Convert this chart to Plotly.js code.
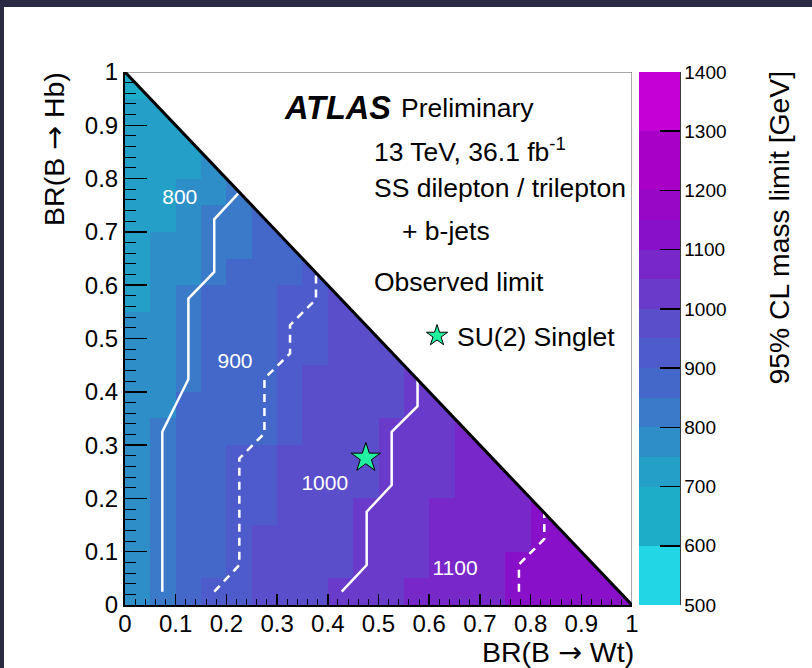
<!DOCTYPE html>
<html><head><meta charset="utf-8">
<script src="https://cdn.plot.ly/plotly-3.0.1.min.js"></script>
<style>
html,body{margin:0;padding:0;background:#2b2a45;width:812px;height:668px;overflow:hidden}
#chart{position:absolute;left:4px;top:7px;width:808px;height:661px;background:#fff}
</style></head><body><div id="chart"></div>
<script>
// Bin edges of the BR scan (x: BR(B->Wt), y: BR(B->Hb))
const binEdgesWt = [0,0.05,0.1,0.15,0.2,0.25,0.3,0.35,0.4,0.45,0.5,0.55,0.6,0.65,0.7,0.75,0.8,0.85,0.9,0.95,1];
const binEdgesHb = [0,0.05,0.1,0.15,0.2,0.25,0.3,0.35,0.4,0.45,0.5,0.55,0.6,0.65,0.7,0.75,0.8,0.85,0.9,0.95,1];
const N = null;
// Observed 95% CL mass limit [GeV] per cell, rows = BR(Hb) bins (bottom to top), cols = BR(Wt) bins
const massLimit = [
 [775,825,875,925,925,975,975,975,1025,1025,1025,1075,1075,1075,1075,1125,1125,1125,1125,1125],
 [775,825,875,875,925,975,975,975,975,1025,1025,1025,1075,1075,1075,1125,1125,1125,1125,N],
 [775,825,875,875,925,975,975,975,975,1025,1025,1025,1075,1075,1075,1075,1125,1125,N,N],
 [775,825,875,875,925,925,975,975,975,1025,1025,1025,1075,1075,1075,1075,1125,N,N,N],
 [775,825,875,875,925,925,975,975,975,975,1025,1025,1025,1075,1075,1075,N,N,N,N],
 [775,825,875,875,925,925,975,975,975,975,1025,1025,1025,1075,1075,N,N,N,N,N],
 [775,825,875,875,875,875,925,975,975,975,1025,1025,1025,1075,N,N,N,N,N,N],
 [775,775,875,875,875,875,925,975,975,975,975,1025,1025,N,N,N,N,N,N,N],
 [775,775,825,875,875,875,925,975,975,975,975,1025,N,N,N,N,N,N,N,N],
 [775,775,825,875,875,875,925,925,975,975,975,N,N,N,N,N,N,N,N,N],
 [775,775,825,875,875,875,925,925,975,975,N,N,N,N,N,N,N,N,N,N],
 [725,775,825,875,875,875,925,925,975,N,N,N,N,N,N,N,N,N,N,N],
 [725,775,775,825,875,875,875,925,N,N,N,N,N,N,N,N,N,N,N,N],
 [725,775,775,825,825,875,875,N,N,N,N,N,N,N,N,N,N,N,N,N],
 [725,725,775,825,825,875,N,N,N,N,N,N,N,N,N,N,N,N,N,N],
 [725,725,775,775,825,N,N,N,N,N,N,N,N,N,N,N,N,N,N,N],
 [725,725,725,775,N,N,N,N,N,N,N,N,N,N,N,N,N,N,N,N],
 [725,725,725,N,N,N,N,N,N,N,N,N,N,N,N,N,N,N,N,N],
 [725,725,N,N,N,N,N,N,N,N,N,N,N,N,N,N,N,N,N,N],
 [650,N,N,N,N,N,N,N,N,N,N,N,N,N,N,N,N,N,N,N]
];
// Palette levels
const bandEdges = [500,600,700,750,800,850,900,950,1000,1050,1100,1150,1200,1300,1400];
const bandColors = ['#22d6e6','#1eadc8','#24a0c8','#2e8ec8','#3a7ac8','#4468ca','#4e5ccb','#5a4ecb','#6a3aca','#7828c8','#8810c8','#9806c6','#a800c6','#c400d6'];
const colorbarTicks = [500,600,700,800,900,1000,1100,1200,1300,1400];
const xTickVals = [0,0.1,0.2,0.3,0.4,0.5,0.6,0.7,0.8,0.9,1];
const yTickVals = [0,0.1,0.2,0.3,0.4,0.5,0.6,0.7,0.8,0.9,1];
// Contours (BR(Wt), BR(Hb))
const contour800Wt = [0.0736,0.0736,0.125,0.125,0.176,0.176,0.2235];
const contour800Hb = [0.025,0.325,0.4235,0.575,0.625,0.7236,0.7724];
const contour900Wt = [0.176,0.2255,0.2255,0.275,0.275,0.3255,0.3255,0.3767,0.3767];
const contour900Hb = [0.025,0.075,0.275,0.322,0.425,0.472,0.525,0.5735,0.622];
const contour1000Wt = [0.4274,0.4767,0.4767,0.526,0.526,0.577,0.577];
const contour1000Hb = [0.025,0.075,0.175,0.225,0.325,0.373,0.422];
const contour1100Wt = [0.777,0.777,0.827,0.827];
const contour1100Hb = [0.025,0.076,0.124,0.174];
const contourLabelText = ['800','900','1000','1100'];
const contourLabelWt = [0.108,0.217,0.394,0.651];
const contourLabelHb = [0.763,0.454,0.225,0.066];
// SU(2) singlet benchmark
const singletWt = [0.475];
const singletHb = [0.276];

const FONT = 'Liberation Sans, Arial, Helvetica, sans-serif';
const ARROW = '<span style="font-family:DejaVu Sans">\u2192</span>';
const zmin = bandEdges[0], zmax = bandEdges[bandEdges.length-1];
const colorscale = [];
bandColors.forEach(function(c,k){
  colorscale.push([(bandEdges[k]-zmin)/(zmax-zmin), c]);
  colorscale.push([(bandEdges[k+1]-zmin)/(zmax-zmin), c]);
});

const traces = [
  {type:'heatmap', x:binEdgesWt, y:binEdgesHb, z:massLimit, zmin:zmin, zmax:zmax,
   colorscale:colorscale, zsmooth:false, hoverinfo:'skip', showlegend:false,
   colorbar:{x:1.0138, xanchor:'left', xpad:0, ypad:0, y:0.5, yanchor:'middle',
     len:533, lenmode:'pixels', thickness:41, thicknessmode:'pixels', outlinewidth:0,
     tickmode:'array', tickvals:colorbarTicks, ticks:'inside', ticklen:20, tickwidth:1.5, tickcolor:'#000',
     tickfont:{size:19, color:'#000', family:FONT}}},
  {type:'scatter', mode:'lines', x:contour800Wt, y:contour800Hb, line:{color:'#fff', width:2.5}, showlegend:false, hoverinfo:'skip'},
  {type:'scatter', mode:'lines', x:contour900Wt, y:contour900Hb, line:{color:'#fff', width:2.5, dash:'8px,6px'}, showlegend:false, hoverinfo:'skip'},
  {type:'scatter', mode:'lines', x:contour1000Wt, y:contour1000Hb, line:{color:'#fff', width:2.5}, showlegend:false, hoverinfo:'skip'},
  {type:'scatter', mode:'lines', x:contour1100Wt, y:contour1100Hb, line:{color:'#fff', width:2.5, dash:'8px,6px'}, showlegend:false, hoverinfo:'skip'},
  {type:'scatter', mode:'text', x:contourLabelWt, y:contourLabelHb, text:contourLabelText,
   textfont:{color:'#fff', size:21, family:FONT}, showlegend:false, hoverinfo:'skip'},
  {type:'scatter', mode:'markers', x:singletWt, y:singletHb, name:'SU(2) Singlet',
   marker:{symbol:'star', size:22, color:'#20f0a0', line:{color:'#000', width:1}}, showlegend:true, hoverinfo:'skip'}
];

const axisCommon = {range:[0,1], showgrid:false, zeroline:false, showline:true, linecolor:'#000', linewidth:2,
  ticks:'inside', tickwidth:1.5, tickcolor:'#000', tickfont:{size:24, color:'#000', family:FONT}, fixedrange:true, tickmode:'array'};

const layout = {
  width:808, height:661, margin:{l:121, r:180, t:65, b:63},
  paper_bgcolor:'#fff', plot_bgcolor:'#fff', font:{family:FONT, color:'#000'},
  xaxis:Object.assign({}, axisCommon, {tickvals:xTickVals, ticklen:11, ticklabelstandoff:-4,
    minor:{dtick:0.02, tick0:0, ticks:'inside', ticklen:6, tickcolor:'#000', tickwidth:1}}),
  yaxis:Object.assign({}, axisCommon, {tickvals:yTickVals, ticklen:22,
    minor:{dtick:0.02, tick0:0, ticks:'inside', ticklen:11, tickcolor:'#000', tickwidth:1}}),
  showlegend:true,
  legend:{x:0.576, xanchor:'left', y:0.5047, yanchor:'middle', bgcolor:'rgba(0,0,0,0)', borderwidth:0,
    font:{size:26.5, color:'#000', family:FONT}},
  shapes:[
    {type:'path', xref:'x', yref:'y', path:'M0,1 L1,1 L1,0 Z', fillcolor:'#fff', line:{width:0}, layer:'above'},
    {type:'path', xref:'x', yref:'y', path:'M0,1 L1,1 L1,0', line:{color:'#555', width:1}, layer:'above'},
    {type:'line', xref:'x', yref:'y', x0:0, y0:1, x1:1, y1:0, line:{color:'#000', width:3}, layer:'above'},
    {type:'line', xref:'paper', yref:'paper', x0:1.0947, x1:1.0947, y0:0, y1:1, line:{color:'#000', width:1.5}, layer:'above'}
  ],
  annotations:[
    {xref:'paper', yref:'paper', x:0.3096, y:0.9325, xanchor:'left', yanchor:'middle', showarrow:false,
     text:'<b><i>ATLAS</i></b>', font:{size:32.5, family:FONT}},
    {xref:'paper', yref:'paper', x:0.5404, y:0.9325, xanchor:'left', yanchor:'middle', showarrow:false,
     text:'Preliminary', font:{size:26.5, family:FONT}},
    {xref:'paper', yref:'paper', x:0.4871, y:0.8537, xanchor:'left', yanchor:'middle', showarrow:false,
     text:'13 TeV, 36.1 fb<sup>-1</sup>', font:{size:26.5, family:FONT}},
    {xref:'paper', yref:'paper', x:0.4871, y:0.7824, xanchor:'left', yanchor:'middle', showarrow:false,
     text:'SS dilepton / trilepton', font:{size:26.5, family:FONT}},
    {xref:'paper', yref:'paper', x:0.5423, y:0.7017, xanchor:'left', yanchor:'middle', showarrow:false,
     text:'+ b-jets', font:{size:26.5, family:FONT}},
    {xref:'paper', yref:'paper', x:0.4871, y:0.606, xanchor:'left', yanchor:'middle', showarrow:false,
     text:'Observed limit', font:{size:26.5, family:FONT}},
    {xref:'paper', yref:'paper', x:1.007, y:-0.09, xanchor:'right', yanchor:'middle', showarrow:false,
     text:'BR(B ' + ARROW + ' Wt)', font:{size:28.5, family:FONT}},
    {xref:'paper', yref:'paper', x:-0.138, y:1.004, xanchor:'center', yanchor:'top', showarrow:false, textangle:-90,
     text:'BR(B ' + ARROW + ' Hb)', font:{size:28.5, family:FONT}},
    {xref:'paper', yref:'paper', x:1.29, y:1.004, xanchor:'center', yanchor:'top', showarrow:false, textangle:-90,
     text:'95% CL mass limit [GeV]', font:{size:28.3, family:FONT}}
  ]
};

Plotly.newPlot('chart', traces, layout, {displayModeBar:false, staticPlot:true});
</script></body></html>
